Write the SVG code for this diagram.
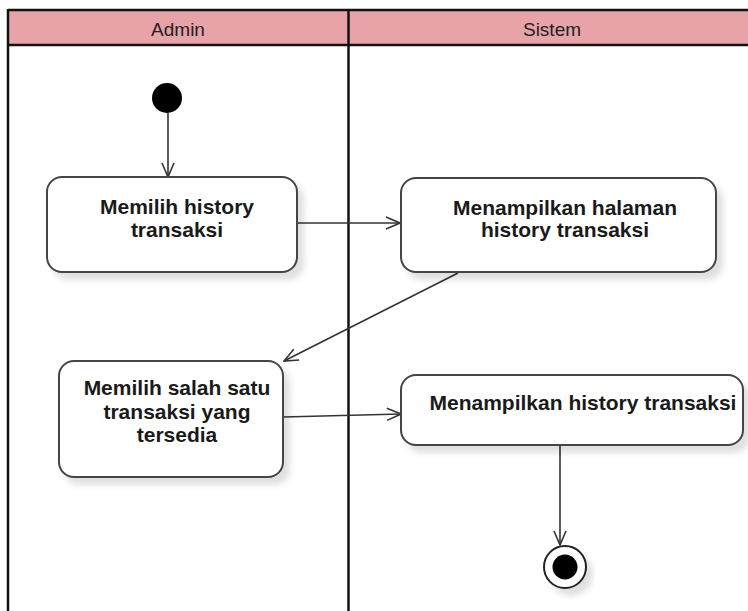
<svg xmlns="http://www.w3.org/2000/svg" width="748" height="611" viewBox="0 0 748 611">
  <style>
    .lane { stroke: #111; stroke-width: 2.5; fill: none; }
    .head { fill: #e8a3a9; }
    .hdr { font-family: "Liberation Sans", Arial, sans-serif; font-size: 19px; fill: #222; text-anchor: middle; }
    .act { fill: #fff; stroke: #444; stroke-width: 2; }
    .lbl { font-family: "Liberation Sans", Arial, sans-serif; font-size: 21px; font-weight: bold; fill: #1a1a1a; text-anchor: middle; }
    .flow { stroke: #333; stroke-width: 1.6; fill: none; marker-end: url(#open); }
  </style>
  <defs>
    <marker id="open" viewBox="0 0 16 16" refX="15" refY="8" markerWidth="16" markerHeight="16" markerUnits="userSpaceOnUse" orient="auto">
      <path d="M1,2 L15,8 L1,14" fill="none" stroke="#333" stroke-width="1.6"/>
    </marker>
    <filter id="shadow" x="-10%" y="-10%" width="130%" height="140%">
      <feDropShadow dx="6" dy="7" stdDeviation="3" flood-color="#000" flood-opacity="0.12"/>
    </filter>
  </defs>

  <rect width="748" height="611" fill="#fff"/>

  <!-- swimlanes -->
  <g id="lanes">
    <rect class="head" x="8" y="10" width="740" height="35"/>
    <line class="lane" x1="8" y1="10" x2="748" y2="10"/>
    <line class="lane" x1="8" y1="45" x2="748" y2="45"/>
    <line class="lane" x1="8" y1="9" x2="8" y2="611"/>
    <line class="lane" x1="348.5" y1="10" x2="348.5" y2="611"/>
    <text class="hdr" x="178" y="36">Admin</text>
    <text class="hdr" x="552" y="36">Sistem</text>
  </g>

  <!-- connectors -->
  <g id="connectors">
    <line class="flow" x1="168" y1="113" x2="168" y2="177"/>
    <line class="flow" x1="297" y1="223" x2="400" y2="223"/>
    <line class="flow" x1="458" y1="273" x2="284" y2="361"/>
    <line class="flow" x1="283" y1="417" x2="401" y2="414"/>
    <line class="flow" x1="560" y1="445" x2="560" y2="545"/>
  </g>

  <g id="start">
    <circle cx="167" cy="98" r="15" fill="#000"/>
  </g>

  <g id="memilih-history">
    <rect class="act" x="47" y="177" width="250" height="95" rx="15" filter="url(#shadow)"/>
    <text class="lbl" x="177" y="214">Memilih history</text>
    <text class="lbl" x="177" y="237">transaksi</text>
  </g>

  <g id="menampilkan-halaman">
    <rect class="act" x="401" y="178" width="315" height="94" rx="15" filter="url(#shadow)"/>
    <text class="lbl" x="565" y="215">Menampilkan halaman</text>
    <text class="lbl" x="565" y="237">history transaksi</text>
  </g>

  <g id="memilih-transaksi">
    <rect class="act" x="59" y="361" width="224" height="116" rx="15" filter="url(#shadow)"/>
    <text class="lbl" x="177" y="395">Memilih salah satu</text>
    <text class="lbl" x="177" y="419">transaksi yang</text>
    <text class="lbl" x="177" y="442">tersedia</text>
  </g>

  <g id="menampilkan-history">
    <rect class="act" x="401" y="375" width="342" height="70" rx="15" filter="url(#shadow)"/>
    <text class="lbl" x="583" y="410">Menampilkan history transaksi</text>
  </g>

  <g id="end">
    <circle cx="565" cy="567" r="21" fill="#fff" stroke="#222" stroke-width="2" filter="url(#shadow)"/>
    <circle cx="565" cy="567" r="12.5" fill="#000"/>
  </g>
</svg>
